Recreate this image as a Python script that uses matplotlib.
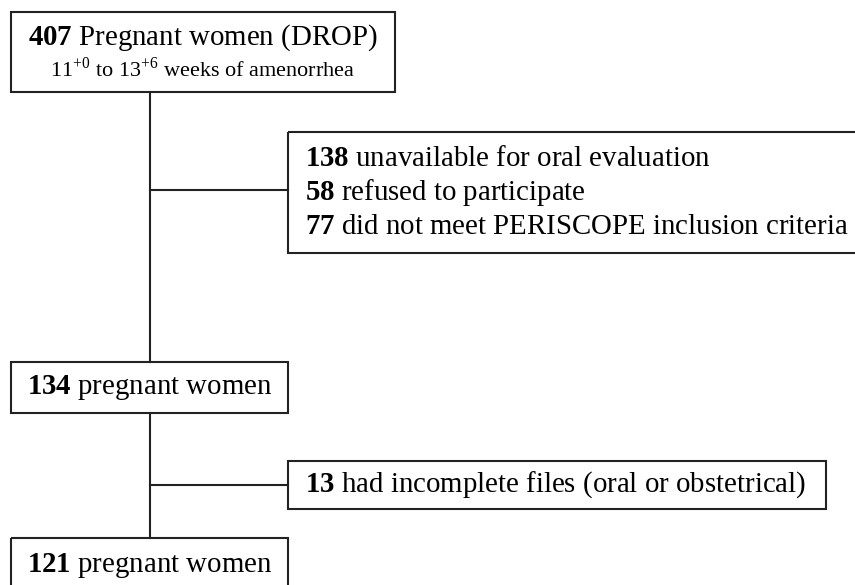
import matplotlib.pyplot as plt
from matplotlib.patches import Rectangle

# flow counts and labels
main_counts = [407, 134, 121]
main_labels = ["Pregnant women (DROP)", "pregnant women", "pregnant women"]
top_sub = r"11$^{+0}$ to 13$^{+6}$ weeks of amenorrhea"
excl1_counts = [138, 58, 77]
excl1_labels = ["unavailable for oral evaluation", "refused to participate",
                "did not meet PERISCOPE inclusion criteria"]
excl2_counts = [13]
excl2_labels = ["had incomplete files (oral or obstetrical)"]

plt.rcParams['font.family'] = ['Liberation Serif', 'DejaVu Serif']
plt.rcParams['mathtext.fontset'] = 'custom'
plt.rcParams['mathtext.rm'] = 'Liberation Serif'
plt.rcParams['mathtext.bf'] = 'Liberation Serif:bold'

LC = '#222222'
LW = 1.5
FS = 20.8


def box(ax, x0, y0, x1, y1):
    ax.add_patch(Rectangle((x0, y0), x1 - x0, y1 - y0, fill=False,
                           ec=LC, lw=LW, zorder=2))


def line_txt(n, s):
    return r"$\mathbf{%d}$ %s" % (n, s)


fig = plt.figure(figsize=(8.55, 5.85), dpi=100)
ax = fig.add_axes([0, 0, 1, 1])
ax.set_xlim(0, 855)
ax.set_ylim(585, 0)
ax.axis('off')

# connectors
ax.plot([150, 150], [92, 362], color=LC, lw=LW)
ax.plot([150, 288], [190, 190], color=LC, lw=LW)
ax.plot([150, 150], [413, 538], color=LC, lw=LW)
ax.plot([150, 288], [485, 485], color=LC, lw=LW)

# top box
box(ax, 11, 12, 395, 92)
ax.text(203, 38, line_txt(main_counts[0], main_labels[0]), ha='center', va='center', fontsize=FS)
ax.text(203, 69, top_sub, ha='center', va='center', fontsize=16)

# first exclusion box (runs off the right edge)
box(ax, 288, 132, 858, 253)
for i, (n, s) in enumerate(zip(excl1_counts, excl1_labels)):
    ax.text(305, 159 + i * 34, line_txt(n, s), ha='left', va='center', fontsize=FS)

# middle box
box(ax, 11, 362, 288, 413)
ax.text(149.5, 388, line_txt(main_counts[1], main_labels[1]), ha='center', va='center', fontsize=FS)

# second exclusion box
box(ax, 288, 461, 826, 509)
ax.text(305, 485, line_txt(excl2_counts[0], excl2_labels[0]), ha='left', va='center', fontsize=FS)

# bottom box
box(ax, 11, 538, 288, 600)
ax.text(149.5, 565, line_txt(main_counts[2], main_labels[2]), ha='center', va='center', fontsize=FS)

fig.savefig("out.png", dpi=100)
